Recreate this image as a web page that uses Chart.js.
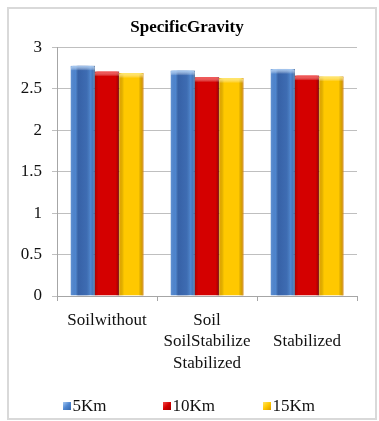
<!DOCTYPE html>
<html>
<head>
<meta charset="utf-8">
<script src="https://cdn.jsdelivr.net/npm/chart.js@4/dist/chart.umd.min.js"></script>
<style>
  html, body { margin: 0; padding: 0; background: #ffffff; }
  #wrap { position: relative; width: 379px; height: 421px; overflow: hidden; }
  #frame {
    position: absolute; left: 7px; top: 7px; width: 370px; height: 413px;
    box-sizing: border-box; border: 2px solid #d9d9d9;
  }
  #chart { position: absolute; left: 0; top: 0; }
</style>
</head>
<body>
<div id="wrap">
  <div id="frame"></div>
  <canvas id="chart" width="379" height="421"></canvas>
</div>
<script>
// Specific gravity of soil samples taken at three distances
const categories = [["Soilwithout"], ["Soil", "SoilStabilize", "Stabilized"], ["", "Stabilized"]];
const seriesNames = ["5Km", "10Km", "15Km"];
const km5  = [2.78, 2.72, 2.74];
const km10 = [2.71, 2.64, 2.66];
const km15 = [2.69, 2.63, 2.65];
const yTickValues = [0, 0.5, 1, 1.5, 2, 2.5, 3];

const FONT = "'Liberation Serif', 'Times New Roman', serif";

// Base fill, edge colour and shading for each series
const looks = [
  { fill: '#4f86d0', edge: '#3566a8', cap: '#a4c8f2',
    stops: [[0, 'rgba(255,255,255,0.12)'], [0.22, 'rgba(0,0,0,0)'], [0.32, 'rgba(10,30,90,0.35)'],
            [0.66, 'rgba(10,30,90,0.25)'], [0.82, 'rgba(0,0,0,0)'], [1, 'rgba(0,0,0,0.20)']] },
  { fill: '#d40000', edge: '#9c0000', cap: '#f24848',
    stops: [[0, 'rgba(0,0,0,0.18)'], [0.15, 'rgba(0,0,0,0)'], [0.85, 'rgba(0,0,0,0)'], [1, 'rgba(0,0,0,0.28)']] },
  { fill: '#ffc800', edge: '#d89a00', cap: '#ffe566',
    stops: [[0, 'rgba(210,120,0,0.40)'], [0.2, 'rgba(0,0,0,0)'], [0.8, 'rgba(0,0,0,0)'], [1, 'rgba(210,110,0,0.50)']] }
];

// Adds the bevelled shading on top of each drawn bar
const barShade = {
  id: 'barShade',
  afterDatasetsDraw(chart) {
    const ctx = chart.ctx;
    chart.data.datasets.forEach((ds, di) => {
      const meta = chart.getDatasetMeta(di);
      const look = looks[di];
      meta.data.forEach(el => {
        const { x, y, width, base } = el.getProps(['x', 'y', 'width', 'base'], true);
        const left = x - width / 2;
        ctx.save();
        const g = ctx.createLinearGradient(left, 0, left + width, 0);
        look.stops.forEach(s => g.addColorStop(s[0], s[1]));
        ctx.fillStyle = g;
        ctx.fillRect(left, y, width, base - y);
        // rounded cap
        const capH = 5;
        const cg = ctx.createLinearGradient(0, y, 0, y + capH);
        cg.addColorStop(0, look.cap);
        cg.addColorStop(1, 'rgba(255,255,255,0)');
        ctx.fillStyle = cg;
        ctx.beginPath();
        ctx.moveTo(left, y + capH);
        ctx.lineTo(left, y + 2);
        ctx.quadraticCurveTo(left, y, left + 3, y);
        ctx.lineTo(left + width - 3, y);
        ctx.quadraticCurveTo(left + width, y, left + width, y + 2);
        ctx.lineTo(left + width, y + capH);
        ctx.closePath();
        ctx.fill();
        ctx.restore();
      });
    });
  }
};

// Legend row: one swatch + name per series, spaced by category width
const rowLegend = {
  id: 'rowLegend',
  afterDraw(chart) {
    const { ctx, chartArea } = chart;
    const step = chartArea.width / categories.length;
    const cy = chartArea.bottom + 110;
    ctx.save();
    ctx.font = '17px ' + FONT;
    ctx.textBaseline = 'middle';
    ctx.textAlign = 'left';
    chart.data.datasets.forEach((ds, i) => {
      const look = looks[i];
      const bx = chartArea.left + step * i + 6;
      const g = ctx.createLinearGradient(bx, cy - 4, bx + 8, cy + 4);
      g.addColorStop(0, look.cap);
      g.addColorStop(0.5, look.fill);
      g.addColorStop(1, look.edge);
      ctx.fillStyle = g;
      ctx.fillRect(bx, cy - 4, 8, 8);
      ctx.fillStyle = '#111';
      ctx.fillText(ds.label, bx + 9.5, cy + 1);
    });
    ctx.restore();
  }
};

const seriesValues = [km5, km10, km15];

new Chart(document.getElementById('chart'), {
  type: 'bar',
  data: {
    labels: categories,
    datasets: seriesNames.map((name, i) => ({
      label: name,
      data: seriesValues[i],
      backgroundColor: looks[i].fill,
      borderColor: looks[i].edge,
      borderWidth: { left: 0, right: 1, top: 0, bottom: 0 },
      barPercentage: 1,
      categoryPercentage: 0.73
    }))
  },
  options: {
    responsive: false,
    animation: false,
    layout: { padding: { left: 17, right: 22, top: 8, bottom: 5 } },
    plugins: {
      legend: { display: false },
      tooltip: { enabled: false },
      title: {
        display: true,
        text: 'SpecificGravity',
        color: '#000',
        font: { family: FONT, size: 17, weight: 'bold' },
        padding: { top: 9, bottom: 10 }
      }
    },
    scales: {
      x: {
        offset: true,
        afterFit(scale) { scale.height = 120; },
        grid: { display: true, drawOnChartArea: false, drawTicks: true, tickLength: 5, color: '#a6a6a6', offset: true },
        border: { display: true, color: '#a6a6a6' },
        ticks: {
          color: '#111', autoSkip: false, maxRotation: 0, padding: 9,
          font: { family: FONT, size: 17, lineHeight: 1.25 }
        }
      },
      y: {
        min: 0, max: 3,
        afterFit(scale) { scale.width = 40; },
        afterBuildTicks(scale) { scale.ticks = yTickValues.map(v => ({ value: v })); },
        grid: { color: '#bfbfbf', tickLength: 5, drawTicks: true },
        border: { display: true, color: '#a6a6a6' },
        ticks: {
          color: '#111', padding: 10,
          font: { family: FONT, size: 17 },
          callback: v => String(v)
        }
      }
    }
  },
  plugins: [barShade, rowLegend]
});
</script>
</body>
</html>
